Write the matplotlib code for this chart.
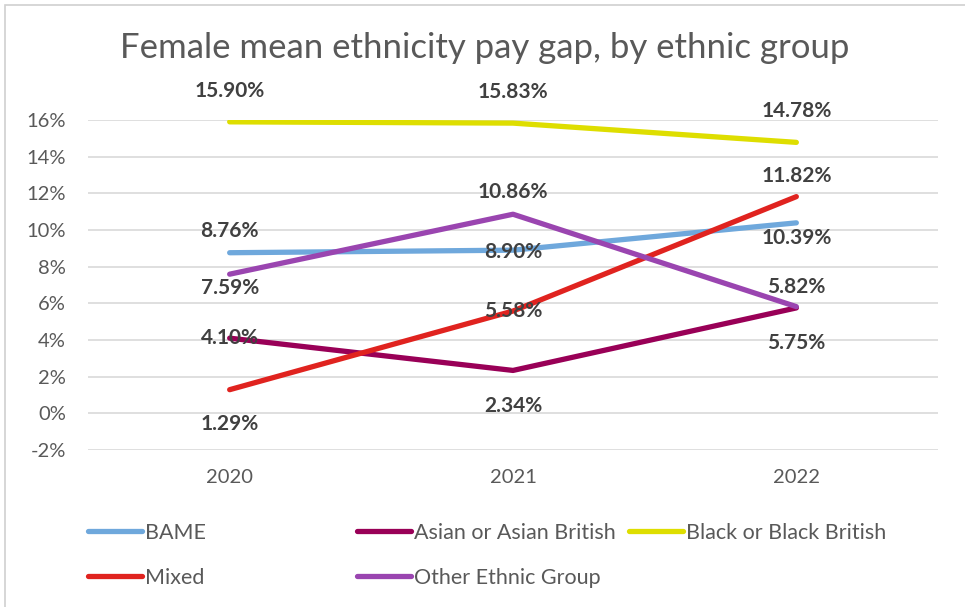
import numpy as np
import matplotlib.pyplot as plt
from matplotlib.lines import Line2D
from matplotlib.patches import Rectangle

plt.rcParams['font.family'] = ['Lato', 'DejaVu Sans']

years = ['2020', '2021', '2022']
bame = [8.76, 8.90, 10.39]
asian = [4.10, 2.34, 5.75]
black = [15.90, 15.83, 14.78]
mixed = [1.29, 5.58, 11.82]
other = [7.59, 10.86, 5.82]

names = ['BAME', 'Asian or Asian British', 'Black or Black British', 'Mixed', 'Other Ethnic Group']
series = [bame, asian, black, mixed, other]
colors = ['#6fa8dc', '#990057', '#dede00', '#e0231f', '#9a45b0']
# vertical shift of each value label from its point, in pixels (up is positive)
label_shift = [[22, -2, -15],
               [0, -36, -35],
               [31, 31, 31],
               [-34, 0, 21],
               [-14, 22, 20]]

fig = plt.figure(figsize=(9.65, 6.07), dpi=100)
fig.patches.append(Rectangle((5 / 965, -0.01), 1.0, 1 - 5 / 607 + 0.01, transform=fig.transFigure,
                             fill=False, edgecolor='#d0d0d0', lw=1.2))
ax = fig.add_axes([88 / 965, 1 - 450 / 607, 850 / 965, 330 / 607])

x = np.arange(len(years))
for vals, col, nm in zip(series, colors, names):
    ax.plot(x, vals, color=col, lw=3.8, solid_capstyle='round', label=nm, zorder=3)

px = 72 / 100  # one pixel in points
for vals, shifts in zip(series, label_shift):
    for i, v in enumerate(vals):
        ax.annotate(f'{v:.2f}%', (x[i], v), xytext=(0, shifts[i] * px), textcoords='offset points',
                    ha='center', va='center', fontsize=15, fontweight='bold',
                    color='#404040', zorder=5, annotation_clip=False)

ax.set_xlim(-0.5, 2.5)
ax.set_ylim(-2, 16)
ax.set_yticks(np.arange(-2, 17, 2))
ax.set_yticklabels([f'{t}%' for t in range(-2, 17, 2)])
ax.set_xticks(x)
ax.set_xticklabels(years)
ax.tick_params(length=0, labelsize=14.5, labelcolor='#595959')
ax.tick_params(axis='y', pad=16)
ax.tick_params(axis='x', pad=14)
ax.grid(axis='y', color='#d9d9d9', lw=1.2)
ax.set_axisbelow(True)
for s in ax.spines.values():
    s.set_visible(False)

fig.text(485 / 965, 1 - 48 / 607, 'Female mean ethnicity pay gap, by ethnic group',
         ha='center', va='center', fontsize=25, color='#595959')

# legend, laid out like the Excel one
leg_xy = [(88, 533), (357, 533), (629, 533), (88, 578), (357, 578)]
for nm, col, (lx, ly) in zip(names, colors, leg_xy):
    h = Line2D([], [], color=col, lw=3.8, solid_capstyle='round')
    fig.legend([h], [nm], loc='center left', bbox_to_anchor=(lx / 965, 1 - ly / 607),
               frameon=False, fontsize=15.5, labelcolor='#595959', handlelength=2.5,
               handletextpad=0.15, borderpad=0, borderaxespad=0)

fig.savefig('out.png', dpi=100)
